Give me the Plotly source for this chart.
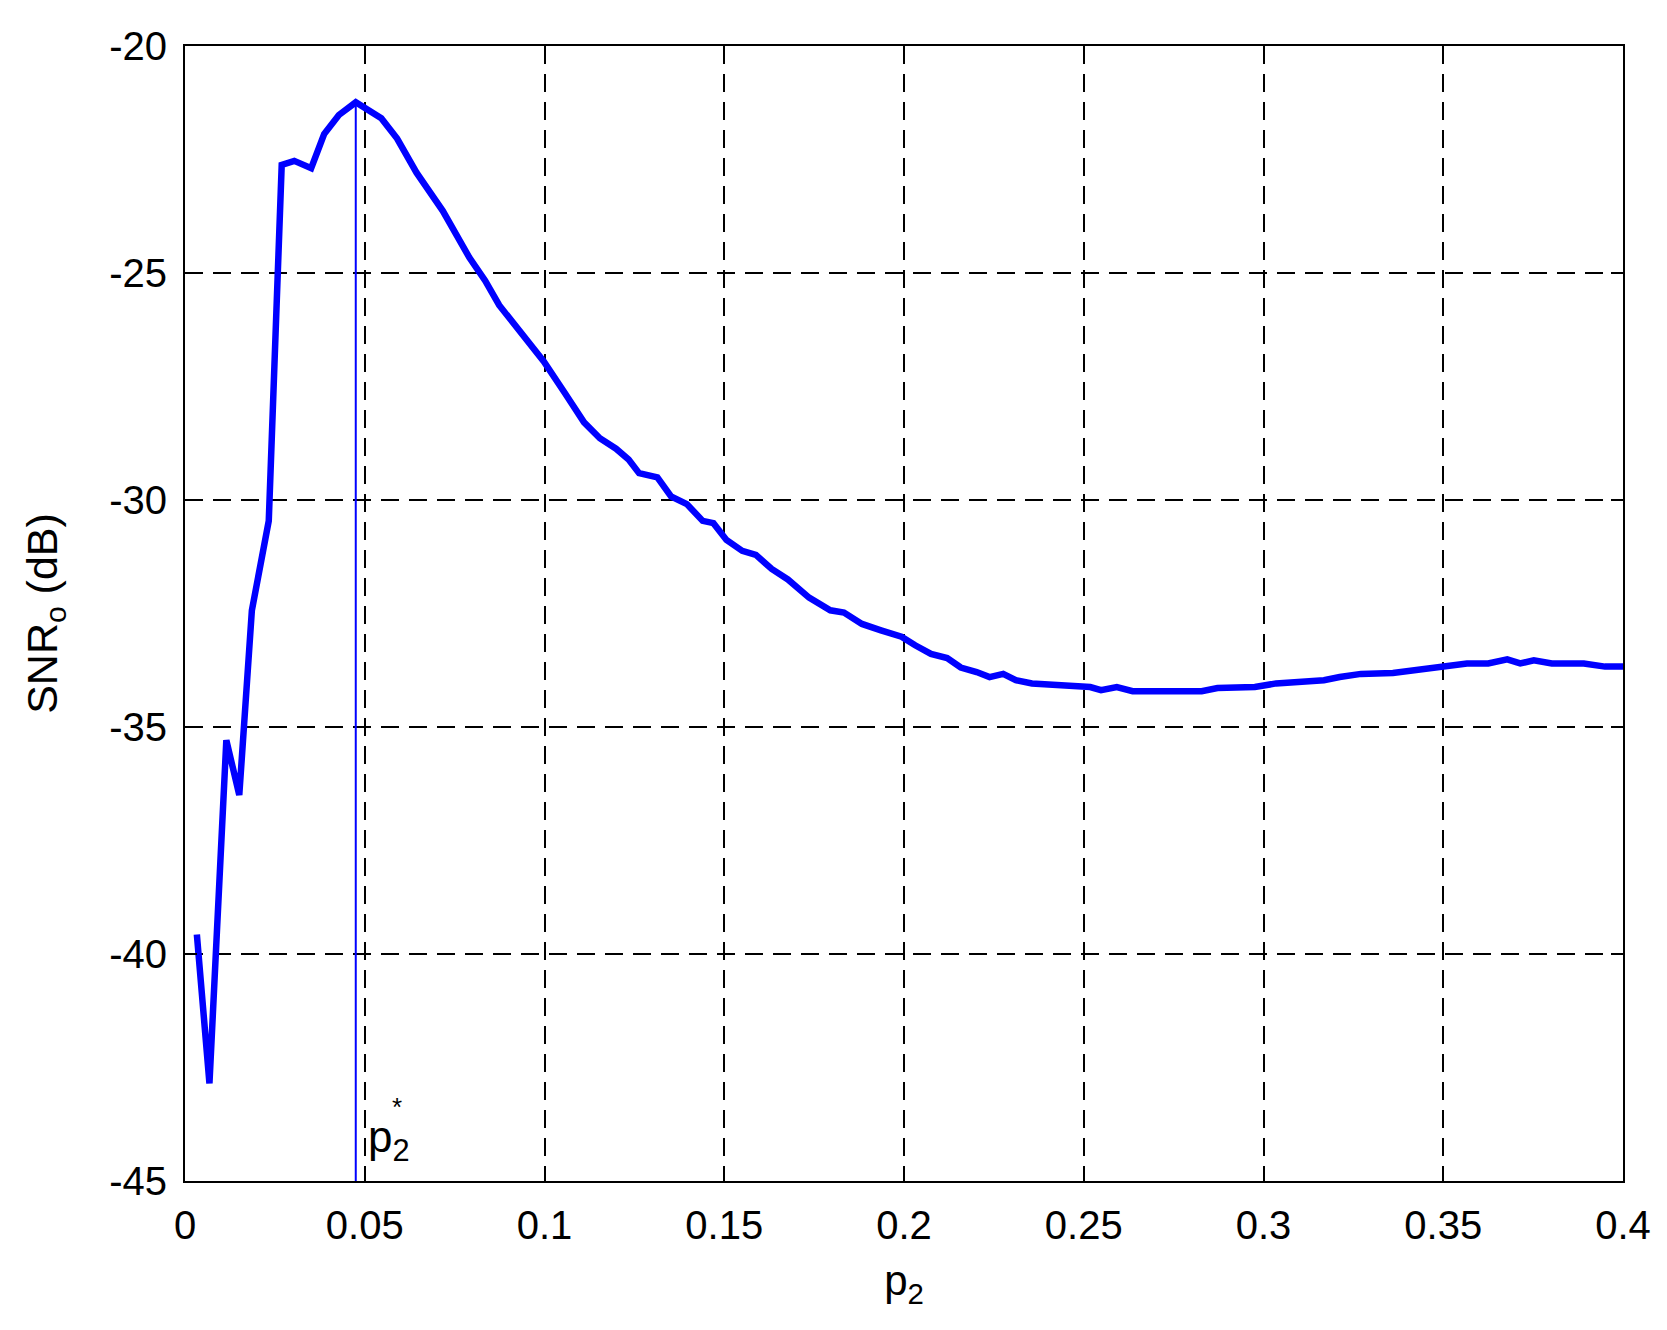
import plotly.graph_objects as go

# SNR_o vs p2
p2 = [0.0033, 0.0068, 0.0115, 0.0151, 0.0186, 0.0233, 0.0269, 0.0304, 0.0351, 0.0387,
      0.0428, 0.0475, 0.0546, 0.0590, 0.0644, 0.0717, 0.0791, 0.0835, 0.0874, 0.0939,
      0.0998, 0.1057, 0.1110, 0.1154, 0.1199, 0.1234, 0.1263, 0.1314, 0.1352, 0.1396,
      0.1440, 0.1470, 0.1506, 0.1550, 0.1588, 0.1632, 0.1677, 0.1736, 0.1795, 0.1833,
      0.1883, 0.1936, 0.1993, 0.2031, 0.2075, 0.2120, 0.2158, 0.2202, 0.2238, 0.2276,
      0.2311, 0.2356, 0.2415, 0.2474, 0.2518, 0.2548, 0.2592, 0.2636, 0.2740, 0.2828,
      0.2872, 0.2976, 0.3035, 0.3094, 0.3168, 0.3212, 0.3271, 0.3360, 0.3404, 0.3463,
      0.3507, 0.3566, 0.3625, 0.3678, 0.3714, 0.3752, 0.3802, 0.3891, 0.3950, 0.4000]
snr = [-39.57, -42.85, -35.29, -36.50, -32.43, -30.46, -22.62, -22.53, -22.69, -21.94,
       -21.52, -21.24, -21.59, -22.04, -22.79, -23.63, -24.66, -25.17, -25.71, -26.39,
       -26.95, -27.65, -28.29, -28.64, -28.87, -29.11, -29.41, -29.50, -29.92, -30.09,
       -30.46, -30.51, -30.88, -31.12, -31.21, -31.52, -31.75, -32.15, -32.43, -32.48,
       -32.73, -32.87, -33.01, -33.20, -33.39, -33.48, -33.69, -33.79, -33.90, -33.83,
       -33.97, -34.04, -34.07, -34.12, -34.12, -34.19, -34.12, -34.21, -34.21, -34.21,
       -34.14, -34.12, -34.04, -34.00, -33.97, -33.90, -33.83, -33.81, -33.76, -33.69,
       -33.65, -33.60, -33.60, -33.51, -33.60, -33.53, -33.60, -33.60, -33.67, -33.67]

# optimum p2* and its SNR
p2_opt = 0.0475
snr_opt = -21.24

x_ticks = [0, 0.05, 0.1, 0.15, 0.2, 0.25, 0.3, 0.35, 0.4]
x_labels = ["0", "0.05", "0.1", "0.15", "0.2", "0.25", "0.3", "0.35", "0.4"]
y_ticks = [-45, -40, -35, -30, -25, -20]
y_labels = ["-45", "-40", "-35", "-30", "-25", "-20"]

font = "Liberation Sans, Arial, sans-serif"

fig = go.Figure()

# marker line for the optimum
fig.add_trace(go.Scatter(
    x=[p2_opt, p2_opt], y=[-45, snr_opt],
    mode="lines", line=dict(color="#0000FF", width=2),
    showlegend=False, hoverinfo="skip"
))

fig.add_trace(go.Scatter(
    x=p2, y=snr, mode="lines",
    line=dict(color="#0000FF", width=6.5),
    showlegend=False
))

fig.add_annotation(x=p2_opt, y=-44.75, xref="x", yref="y",
                   text="p<sub>2</sub>", showarrow=False,
                   xanchor="left", yanchor="bottom", xshift=10,
                   font=dict(family=font, size=44, color="black"))
fig.add_annotation(x=p2_opt, y=-43.75, xref="x", yref="y",
                   text="*", showarrow=False,
                   xanchor="left", yanchor="bottom", xshift=34,
                   font=dict(family=font, size=26, color="black"))

axis_common = dict(
    showline=True, linecolor="black", linewidth=2, mirror="allticks",
    ticks="inside", ticklen=12, tickwidth=2, tickcolor="black",
    showgrid=True, gridcolor="black", gridwidth=2, griddash="18px,10px",
    zeroline=False, tickfont=dict(family=font, size=40, color="black"),
    ticklabelstandoff=8,
)

fig.update_xaxes(range=[0, 0.4], tickvals=x_ticks, ticktext=x_labels,
                 title=dict(text="p<sub>2</sub>", font=dict(family=font, size=42, color="black"),
                            standoff=20),
                 **axis_common)
fig.update_yaxes(range=[-45, -20], tickvals=y_ticks, ticktext=y_labels,
                 title=dict(text="SNR<sub>o</sub> (dB)", font=dict(family=font, size=43, color="black"),
                            standoff=38),
                 **axis_common)

fig.update_layout(
    width=1667, height=1330,
    margin=dict(l=177, r=52, t=38, b=157),
    plot_bgcolor="white", paper_bgcolor="white",
)

fig.write_html("out.html")
